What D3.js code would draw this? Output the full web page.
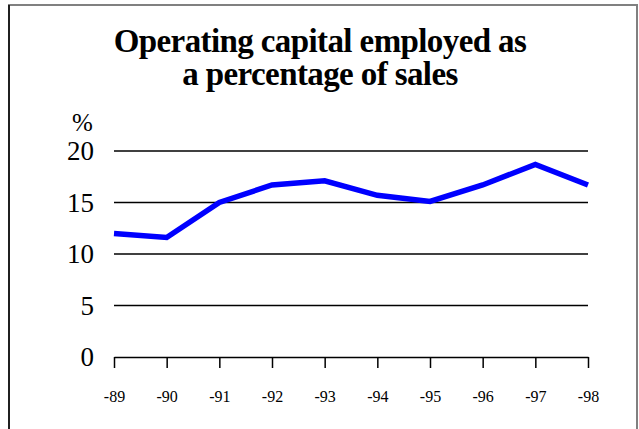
<!DOCTYPE html>
<html>
<head>
<meta charset="utf-8">
<script src="https://cdn.jsdelivr.net/npm/d3@7"></script>
<style>
  html, body { margin: 0; padding: 0; background: #fff; }
  svg text, svg tspan { font-family: "Liberation Serif", "Times New Roman", serif; fill: #000; }
</style>
</head>
<body>
<div id="root"></div>
<script>
// valores
const years = ['-89', '-90', '-91', '-92', '-93', '-94', '-95', '-96', '-97', '-98'];
const values = [12.0, 11.6, 15.0, 16.7, 17.1, 15.7, 15.1, 16.7, 18.7, 16.7];
const yTicks = [0, 5, 10, 15, 20];
const titleLines = ['Operating capital employed as', 'a percentage of sales'];

const W = 639, H = 429;
const m = { top: 151, right: 51, bottom: 72, left: 114 };
const serif = '"Liberation Serif", "Times New Roman", serif';

const svg = d3.select('#root').append('svg').attr('width', W).attr('height', H);

// moldura
svg.append('rect')
  .attr('x', 9).attr('y', 5).attr('width', 628).attr('height', 440)
  .attr('fill', 'none').attr('stroke', '#808080').attr('stroke-width', 2);
svg.append('line')
  .attr('x1', 9).attr('x2', 9).attr('y1', 5).attr('y2', H)
  .attr('stroke', '#000').attr('stroke-width', 1.5);

// título
svg.append('text')
  .attr('x', 320).attr('y', 52)
  .attr('text-anchor', 'middle')
  .style('font-family', serif)
  .style('font-size', '33px').style('font-weight', 'bold').style('letter-spacing', '-0.6px')
  .selectAll('tspan').data(titleLines).join('tspan')
  .attr('x', 320).attr('dy', (d, i) => i ? 33 : 0)
  .text(d => d);

const x = d3.scalePoint().domain(years).range([m.left, W - m.right]);
const y = d3.scaleLinear().domain([0, 20]).range([H - m.bottom, m.top]);

// linhas de grade
svg.append('g').selectAll('line').data(yTicks.filter(d => d > 0)).join('line')
  .attr('x1', m.left).attr('x2', W - m.right)
  .attr('y1', d => y(d)).attr('y2', d => y(d))
  .attr('stroke', '#000').attr('stroke-width', 1.5);

// eixo y (só rótulos)
svg.append('g').selectAll('text').data(yTicks).join('text')
  .attr('x', m.left - 20).attr('y', d => y(d))
  .attr('dy', '0.35em').attr('text-anchor', 'end')
  .style('font-size', '27px')
  .text(d => d);

svg.append('text')
  .attr('x', 72).attr('y', 131)
  .style('font-size', '25px')
  .text('%');

// eixo x
const xAxis = svg.append('g')
  .attr('transform', `translate(0,${y(0)})`)
  .call(d3.axisBottom(x).tickSize(11).tickPadding(23).tickSizeOuter(0));
xAxis.select('.domain').attr('stroke', '#000').attr('stroke-width', 1.5);
xAxis.selectAll('.tick line').attr('stroke', '#000').attr('stroke-width', 1.5);
xAxis.selectAll('.tick text')
  .style('font-family', serif)
  .style('font-size', '16px').attr('fill', '#000');

// série
svg.append('path')
  .datum(values)
  .attr('fill', 'none')
  .attr('stroke', '#0000ff')
  .attr('stroke-width', 5.5)
  .attr('stroke-linejoin', 'miter')
  .attr('d', d3.line().x((d, i) => x(years[i])).y(d => y(d)));
</script>
</body>
</html>
